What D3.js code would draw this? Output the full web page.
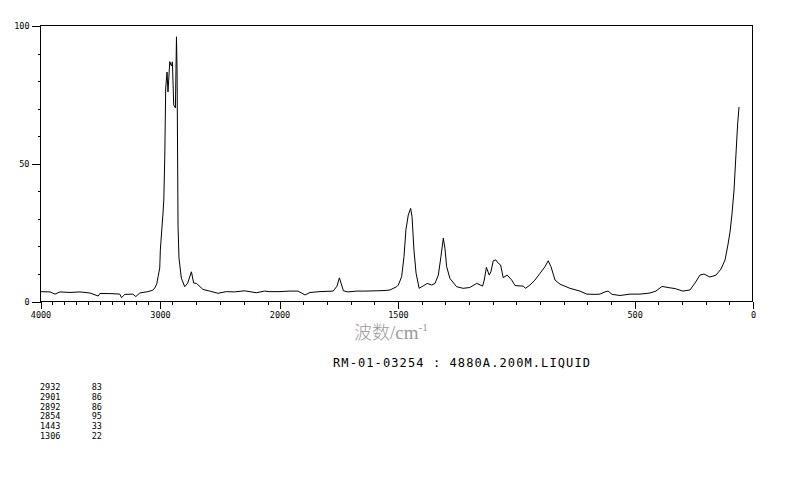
<!DOCTYPE html>
<html><head><meta charset="utf-8">
<script src="https://cdn.jsdelivr.net/npm/d3@7"></script>
<style>body{margin:0;background:#fff}svg{display:block}</style>
</head><body><svg id="c" width="794" height="482"></svg>
<script>
// ---- data (Raman spectrum, wavenumber cm-1 vs intensity) ----
const wavenumbers = [4000,3916,3875,3833,3749,3666,3582,3513,3499,3415,3332,3318,3290,3223,3198,3165,3098,3056,3040,3023,3012,2998,2993,2981,2970,2964,2956,2948,2937,2929,2923,2914,2900,2892,2881,2867,2858,2853,2845,2837,2817,2789,2764,2733,2714,2691,2636,2580,2511,2441,2372,2288,2190,2121,2079,2000,
1954,1920,1890,1869,1827,1771,1755,1745,1738,1728,1709,1672,1637,1587,1552,1531,1503,1496,1482,1472,1464,1454,1444,1438,1430,1421,1408,1397,1388,1374,1355,1341,1327,1316,1306,1299,1292,1278,1250,1222,1194,1165,1140,1133,1124,1112,1105,1095,1084,1074,1064,1053,1036,1017,1003,968,959,940,919,898,877,863,851,834,813,771,729,700,665,644,623,610,593,560,517,475,433,408,382,357,327,294,264,243,222,205,180,154,133,116,104,95,87,78,70,63,57];
const intensities = [3.4,3.3,2.5,3.3,3.1,3.3,2.9,1.8,2.7,2.7,2.5,1.2,2.4,2.5,1.6,2.9,3.4,3.9,4.7,6.2,8.8,12.0,18.5,25.8,32.3,36.7,51.9,77.3,83.1,75.9,80.2,86.9,85.3,86.8,71.1,70.1,95.9,83.8,27.6,15.6,8.3,5.2,6.5,10.6,6.5,6.4,4.2,3.6,2.8,3.4,3.3,3.7,3.0,3.6,3.4,3.4,
3.6,3.6,2.2,3.1,3.4,3.6,5.4,8.4,6.5,3.7,3.3,3.6,3.6,3.7,3.8,4.0,5.2,5.8,8.8,16.1,25.8,31.2,33.6,30.6,18.5,10.1,4.6,5.2,5.6,6.4,5.8,6.4,9.4,16.1,22.8,19.1,12.5,8.2,5.2,4.6,4.9,6.4,5.4,7.6,12.2,9.4,10.6,14.6,14.9,13.7,13.1,8.5,9.4,7.6,5.6,5.4,4.6,5.8,7.6,10.0,12.4,14.6,12.4,7.6,6.1,4.6,3.6,2.5,2.4,2.5,3.3,3.6,2.4,2.0,2.5,2.5,2.9,3.6,5.3,4.9,4.5,3.6,4.0,6.5,9.4,9.8,8.7,9.4,11.6,14.9,20.3,25.0,31.2,40.3,53.0,63.9,70.4];

const xMajorTicks = [4000,3000,2000,1500,500,0];
const xMajorLabels = ["4000","3000","2000","1500","500","0"];
const xMinorTicks = [3900,3800,3700,3600,3500,3400,3300,3200,3100,2900,2700,2500,2300,2100,1900,1800,1700,1600,1400,1300,1200,1100,1000,900,800,700,600,400,300,200,100];
const yMajorTicks = [0,50,100];
const yMajorLabels = ["0","50","100"];
const yMinorTicks = [10,20,30,40,60,70,80,90];
const peakWavenumbers = ["2932","2901","2892","2854","1443","1306"];
const peakIntensities = ["83","86","86","95","33","22"];
const sampleLabel = "RM-01-03254 : 4880A.200M.LIQUID";
const axisTitleCJK = "波数";
const axisTitleUnit = "/cm";
const axisTitleSup = "-1";

// ---- drawing ----
const svg = d3.select("#c");
const x = d3.scaleLinear().domain([4000,2000,0]).range([40,279,752.5]);
const y = d3.scaleLinear().domain([0,100]).range([301,25.5]);
const mono = "'DejaVu Sans Mono', 'Liberation Mono', monospace";

// frame
svg.append("rect").attr("x",40.5).attr("y",25.5).attr("width",712).attr("height",275.5)
  .attr("fill","none").attr("stroke","#000").attr("stroke-width",1).attr("shape-rendering","crispEdges");

// x axis
const gx = svg.append("g").attr("transform","translate(0.5,301.5)");
gx.call(d3.axisBottom(x).tickValues(xMinorTicks).tickSize(3).tickFormat(""));
gx.append("g").call(d3.axisBottom(x).tickValues(xMajorTicks).tickSize(7)
   .tickFormat((d,i)=>xMajorLabels[i]).tickPadding(3));
gx.selectAll(".domain").remove();
gx.selectAll("line").attr("stroke","#000").attr("shape-rendering","crispEdges");
gx.selectAll("text").attr("font-family",mono).attr("font-size","8.5px").attr("fill","#000");

// y axis
const gy = svg.append("g").attr("transform","translate(40.5,0.5)");
gy.call(d3.axisLeft(y).tickValues(yMinorTicks).tickSize(3).tickFormat(""));
gy.append("g").call(d3.axisLeft(y).tickValues(yMajorTicks).tickSize(9)
   .tickFormat((d,i)=>yMajorLabels[i]).tickPadding(2));
gy.selectAll(".domain").remove();
gy.selectAll("line").attr("stroke","#000").attr("shape-rendering","crispEdges");
gy.selectAll("text").attr("font-family",mono).attr("font-size","8.5px").attr("fill","#000");

// spectrum
const pts = wavenumbers.map((w,i)=>[w,intensities[i]]);
svg.append("path").datum(pts)
  .attr("d", d3.line().x(d=>x(d[0])).y(d=>y(d[1])))
  .attr("fill","none").attr("stroke","#000").attr("stroke-width",1);

// axis title
const t = svg.append("text").attr("x",354).attr("y",339).attr("fill","#9a9a9a");
t.append("tspan").attr("font-family","'Noto Sans CJK SC'").attr("font-size","18px").attr("font-weight",300).text(axisTitleCJK);
t.append("tspan").attr("font-family","'Liberation Serif', serif").attr("font-size","19px").text(axisTitleUnit);
t.append("tspan").attr("font-family","'Liberation Serif', serif").attr("font-size","11px").attr("dy",-8).text(axisTitleSup);

// sample label
svg.append("text").attr("x",333).attr("y",367).attr("font-family",mono).attr("font-size","12px")
  .attr("letter-spacing","1.1px").attr("fill","#000").text(sampleLabel);

// peak table
const tbl = svg.append("g").attr("font-family",mono).attr("font-size","8.5px").attr("fill","#000");
peakWavenumbers.forEach((w,i)=>{
  tbl.append("text").attr("x",40).attr("y",390+i*9.8).text(w);
  tbl.append("text").attr("x",102).attr("y",390+i*9.8).attr("text-anchor","end").text(peakIntensities[i]);
});
</script></body></html>
